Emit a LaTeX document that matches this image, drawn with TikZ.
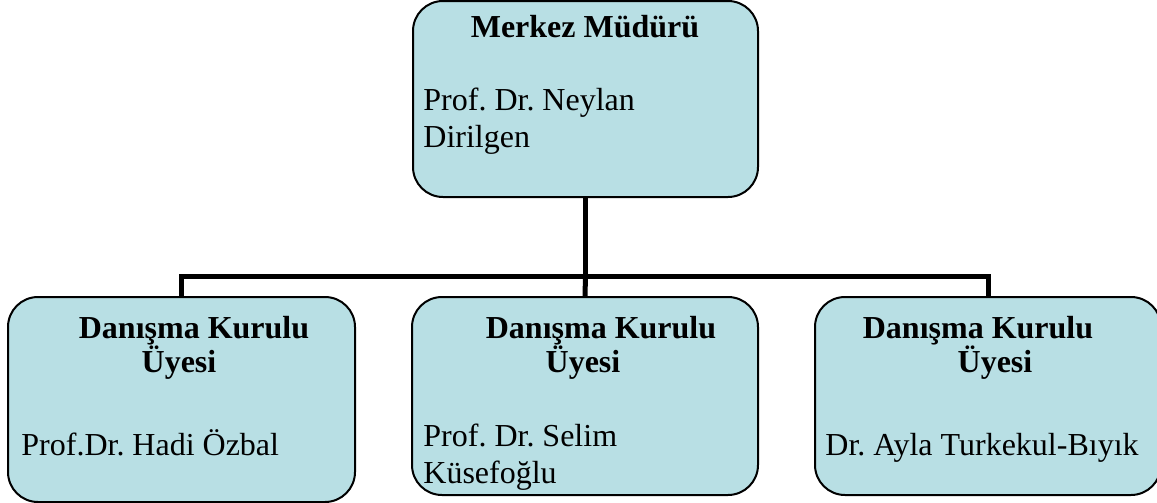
\documentclass[tikz,border=0pt]{standalone}
\usepackage{fontspec}
\setmainfont{Liberation Serif}
\frenchspacing
\usetikzlibrary{positioning,fit}
\definecolor{boxblue}{RGB}{184,223,228}
\tikzset{
  box/.style={draw,fill=boxblue,line width=1pt,rounded corners=15pt,inner sep=0pt},
  headtxt/.style={font=\fontsize{16}{17}\selectfont\bfseries,align=center,inner sep=0pt,anchor=base},
  nametxt/.style={font=\fontsize{16}{18.2}\selectfont,align=left,inner sep=0pt,anchor=base west},
  conn/.style={line width=2.5pt}
}
\begin{document}
\begin{tikzpicture}[x=0.5pt,y=-0.5pt]
  \useasboundingbox (0,0) rectangle (1157,503);

  % draw edges
  \coordinate (bus) at (585.5,276);

  \node[box,fit={(413,1) (758,197)}] (mgr) {};
  \node[box,fit={(8,297) (355,502)}] (uye1) {};
  \node[box,fit={(412,297) (758,495)}] (uye2) {};
  \node[box,fit={(815,297) (1161,495)}] (uye3) {};

  \draw[conn] (mgr.south) -- (bus);
  \draw[conn] (bus) -| (uye1.north);
  \draw[conn] (bus) -- (uye2.north);
  \draw[conn] (bus) -| (uye3.north);

  % base is the last line
  \node[headtxt] at (585,38) (mgrhead) {Merkez Müdürü};
  \node[nametxt] at (423,147) (mgrname) {Prof. Dr. Neylan\\Dirilgen};

  \node[headtxt] at (194,372) (uye1head) {Danışma Kurulu\\Üyesi\hspace*{15pt}};
  \node[nametxt] at (21,455) (uye1name) {Prof.Dr. Hadi Özbal};

  \node[headtxt] at (601,372) (uye2head) {Danışma Kurulu\\Üyesi\hspace*{18pt}};
  \node[nametxt] at (423,483) (uye2name) {Prof. Dr. Selim\\Küsefoğlu};

  \node[headtxt] at (978,372) (uye3head) {Danışma Kurulu\\\hspace*{17pt}Üyesi};
  \node[nametxt] at (825,455) (uye3name) {Dr. Ayla Turkekul-Bıyık};
\end{tikzpicture}
\end{document}
